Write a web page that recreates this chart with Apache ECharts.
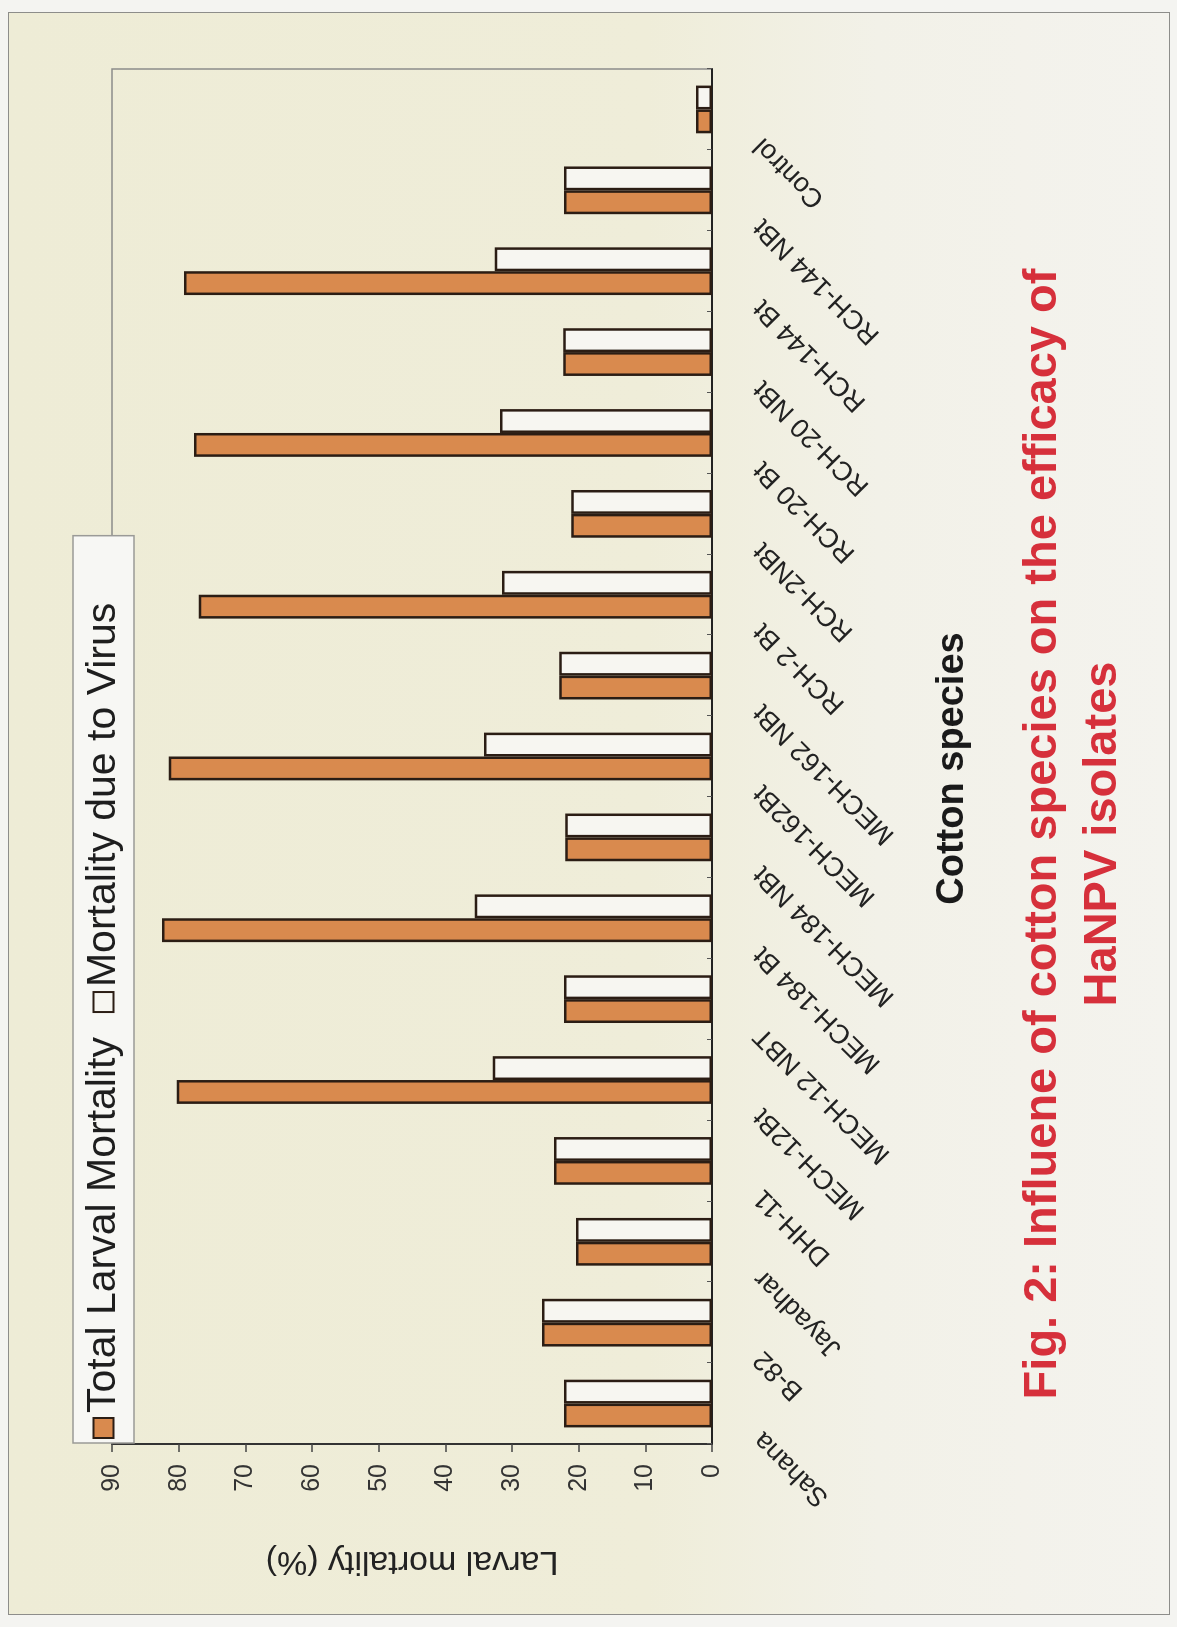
<!DOCTYPE html>
<html>
<head>
<meta charset="utf-8">
<title>Influene of cotton species on the efficacy of HaNPV isolates</title>
<script src="https://cdn.jsdelivr.net/npm/echarts@6/dist/echarts.min.js"></script>
<style>
  html, body { margin: 0; padding: 0; width: 1177px; height: 1627px; overflow: hidden; background: #f4f4f1; }
  /* the sheet is laid out landscape and turned a quarter turn to stand upright */
  #sheet {
    position: absolute; left: 0; top: 0;
    width: 1627px; height: 1177px;
    transform-origin: 0 0;
    transform: translate(0, 1627px) rotate(-90deg);
  }
  #panel {
    position: absolute; left: 12px; top: 8px; width: 1601px; height: 1160px;
    border: 1.5px solid #8d8d8a;
    background: linear-gradient(to bottom, #eeecd6 0%, #efedd9 55%, #f2f1e8 75%, #f4f3ee 100%);
  }
  #chart { position: absolute; left: 0; top: 0; width: 1627px; height: 1177px; }
</style>
</head>
<body>
<div id="sheet">
  <div id="panel"></div>
  <div id="chart"></div>
</div>
<script>
// Cotton genotypes tested
const categories = [
  'Sahana', 'B-82', 'Jayadhar', 'DHH-11', 'MECH-12Bt', 'MECH-12 NBT',
  'MECH-184 Bt', 'MECH-184 NBt', 'MECH-162Bt', 'MECH-162 NBt', 'RCH-2 Bt',
  'RCH-2NBt', 'RCH-20 Bt', 'RCH-20 NBt', 'RCH-144 Bt', 'RCH-144 NBt', 'Control'
];
// Larval mortality (%)
const totalMortality = [22.2, 25.5, 20.4, 23.7, 80.3, 22.2, 82.5, 22.0, 81.5, 22.9, 77.0, 21.1, 77.7, 22.3, 79.2, 22.2, 2.4];
const virusMortality = [22.2, 25.5, 20.4, 23.7, 32.9, 22.2, 35.6, 22.0, 34.2, 22.9, 31.5, 21.1, 31.8, 22.3, 32.6, 22.2, 2.4];
const valueTicks = { min: 0, max: 90, interval: 10 };
const seriesNames = ['Total Larval Mortality', 'Mortality due to Virus'];
const captionLines = ['Fig. 2: Influene of cotton species on the efficacy of', 'HaNPV isolates'];

const FONT = '"Liberation Sans", Arial, Helvetica, sans-serif';
const chart = echarts.init(document.getElementById('chart'), null, { renderer: 'canvas' });

chart.setOption({
  backgroundColor: 'transparent',
  animation: false,
  textStyle: { fontFamily: FONT },
  grid: {
    left: 183, right: 69, top: 112, bottom: 465,
    show: true, borderColor: '#8c8c8a', borderWidth: 1.5, backgroundColor: 'transparent'
  },
  legend: {
    data: seriesNames,
    left: 184, top: 73,
    padding: [10, 67, 10, 4],
    itemGap: 24,
    itemWidth: 20, itemHeight: 20,
    icon: 'rect',
    backgroundColor: '#f7f7f4',
    borderColor: '#9a9a97', borderWidth: 1.5,
    itemStyle: { borderColor: '#2b1d14', borderWidth: 2 },
    textStyle: { fontFamily: FONT, fontSize: 41, color: '#1e1e1e' }
  },
  xAxis: {
    type: 'category',
    data: categories,
    name: 'Cotton species',
    nameLocation: 'middle',
    nameGap: 222,
    nameTextStyle: { fontFamily: FONT, fontSize: 38, fontWeight: 'bold', color: '#1a1a1a', padding: [0, 24, 0, 0] },
    axisLine: { lineStyle: { color: '#222', width: 2 } },
    axisTick: { show: true, inside: true, length: 5, lineStyle: { color: '#555', width: 1 } },
    axisLabel: {
      interval: 0, rotate: 45, margin: 14,
      padding: [0, 46, 0, 0],
      fontFamily: FONT, fontSize: 27, color: '#222'
    },
    splitLine: { show: false }
  },
  yAxis: {
    type: 'value',
    min: valueTicks.min, max: valueTicks.max, interval: valueTicks.interval,
    name: 'Larval mortality (%)',
    nameLocation: 'middle',
    nameRotate: 90,
    nameGap: 100,
    nameTextStyle: { fontFamily: FONT, fontSize: 34, color: '#222' },
    axisLine: { show: true, lineStyle: { color: '#333', width: 2 } },
    axisTick: { show: true, inside: false, length: 8, lineStyle: { color: '#444', width: 1.5 } },
    axisLabel: { margin: 20, fontFamily: FONT, fontSize: 25, color: '#333' },
    splitLine: { show: false }
  },
  series: [
    {
      name: seriesNames[0],
      type: 'bar',
      data: totalMortality,
      barGap: '0%',
      barCategoryGap: '41%',
      itemStyle: { color: '#d98a4e', borderColor: '#2b1d14', borderWidth: 2.5 }
    },
    {
      name: seriesNames[1],
      type: 'bar',
      data: virusMortality,
      itemStyle: { color: '#f7f6f1', borderColor: '#2b1d14', borderWidth: 2.5 }
    }
  ],
  graphic: [
    {
      type: 'text',
      x: 793, y: 1073,
      style: {
        text: captionLines.join('\n'),
        align: 'center', verticalAlign: 'middle',
        lineHeight: 60,
        font: 'bold 47px ' + FONT,
        fill: '#d6303b'
      }
    }
  ]
});
</script>
</body>
</html>
